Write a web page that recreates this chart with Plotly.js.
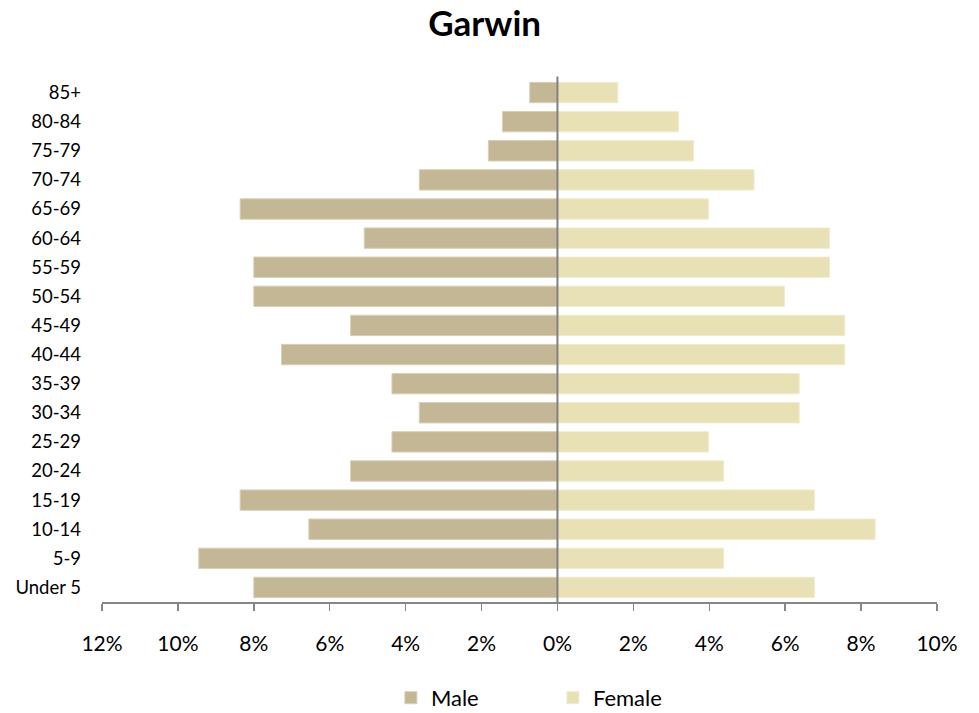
<!DOCTYPE html>
<html>
<head>
<meta charset="utf-8">
<script src="https://cdn.plot.ly/plotly-3.0.1.min.js"></script>
<style>html,body{margin:0;padding:0;background:#fff;}#chart{width:979px;height:713px;}</style>
</head>
<body>
<div id="chart"></div>
<script>
const ageGroups = ["Under 5","5-9","10-14","15-19","20-24","25-29","30-34","35-39","40-44","45-49","50-54","55-59","60-64","65-69","70-74","75-79","80-84","85+"];
const malePct   = [8.00, 9.45, 6.55, 8.36, 5.45, 4.36, 3.64, 4.36, 7.27, 5.45, 8.00, 8.00, 5.09, 8.36, 3.64, 1.82, 1.45, 0.73];
const femalePct = [6.77, 4.38, 8.37, 6.77, 4.38, 3.98, 6.37, 6.37, 7.57, 7.57, 5.98, 7.17, 7.17, 3.98, 5.18, 3.59, 3.19, 1.59];
const tickVals  = [-12,-10,-8,-6,-4,-2,0,2,4,6,8,10];
const tickText  = ["12%","10%","8%","6%","4%","2%","0%","2%","4%","6%","8%","10%"];

const FONT = "Lato, 'Open Sans', sans-serif";
const traces = [
  {type:'bar', orientation:'h', name:'Male', y:ageGroups, x:malePct.map(v=>-v),
   marker:{color:'#C4B796', line:{color:'#D9CFB6', width:1}}},
  {type:'bar', orientation:'h', name:'Female', y:ageGroups, x:femalePct,
   marker:{color:'#E8E1B6', line:{color:'#F1ECCF', width:1}}}
];
const layout = {
  width:979, height:713,
  paper_bgcolor:'#fff', plot_bgcolor:'#fff',
  margin:{l:102, r:42, t:78, b:111, autoexpand:false},
  barmode:'overlay', bargap:0.3,
  font:{family:FONT, color:'#000'},
  title:{text:'<b>Garwin</b>', font:{family:FONT, size:35, color:'#000'}, x:0.495, xanchor:'center', y:0.966, yanchor:'middle'},
  xaxis:{range:[-12,10], tickvals:tickVals, ticktext:tickText, showgrid:false, zeroline:false, automargin:false,
         showline:true, linecolor:'#868686', linewidth:2, ticks:'outside', ticklen:7, tickwidth:1.5, tickcolor:'#868686',
         tickfont:{family:FONT, size:21}, ticklabelstandoff:15, fixedrange:true},
  yaxis:{type:'category', categoryorder:'array', categoryarray:ageGroups, showgrid:false, zeroline:false, showline:false, automargin:false,
         ticks:'', tickfont:{family:FONT, size:18.5}, ticklabelstandoff:20, range:[-0.5,17.5], fixedrange:true},
  shapes:[{type:'line', xref:'x', yref:'paper', x0:0, x1:0, y0:0, y1:1.003, line:{color:'#808080', width:2}, layer:'above'}],
  showlegend:true,
  legend:{orientation:'h', x:0.540, xanchor:'center', y:-0.183, yanchor:'middle', font:{family:FONT, size:22},
          entrywidth:117, itemwidth:30, traceorder:'normal'}
};
Plotly.newPlot('chart', traces, layout, {displayModeBar:false, staticPlot:true});
</script>
</body>
</html>
